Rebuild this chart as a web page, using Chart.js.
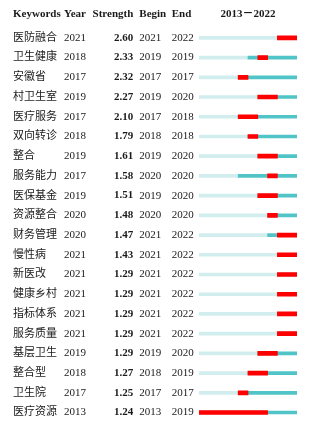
<!DOCTYPE html>
<html>
<head>
<meta charset="utf-8">
<script src="https://cdn.jsdelivr.net/npm/chart.js@4"></script>
<style>
  body { margin: 0; background: #fff; }
  #wrap { width: 324px; height: 435px; position: relative; }
</style>
</head>
<body>
<div id="wrap"><canvas id="burstChart"></canvas></div>
<script>
const keywords = ['医防融合', '卫生健康', '安徽省', '村卫生室', '医疗服务', '双向转诊', '整合', '服务能力', '医保基金', '资源整合',
    '财务管理', '慢性病', '新医改', '健康乡村', '指标体系', '服务质量', '基层卫生', '整合型', '卫生院', '医疗资源'];
const years = [2021, 2018, 2017, 2019, 2017, 2018, 2019, 2017, 2019, 2020, 2020, 2021, 2021, 2021, 2021, 2021, 2019, 2018, 2017, 2013];
const strengths = [2.60, 2.33, 2.32, 2.27, 2.10, 1.79, 1.61, 1.58, 1.51, 1.48, 1.47, 1.43, 1.29, 1.29, 1.29, 1.29, 1.29, 1.27, 1.25, 1.24];
const begins = [2021, 2019, 2017, 2019, 2017, 2018, 2019, 2020, 2019, 2020, 2021, 2021, 2021, 2021, 2021, 2021, 2019, 2018, 2017, 2013];
const ends = [2022, 2019, 2017, 2020, 2018, 2018, 2020, 2020, 2020, 2020, 2022, 2022, 2022, 2022, 2022, 2022, 2020, 2019, 2017, 2019];
const headers = ['Keywords', 'Year', 'Strength', 'Begin', 'End', '2013－2022'];
const firstYear = 2013;
const lastYear = 2022;

const textColor = '#1a1a1a';
const fontFamily = "'Liberation Serif', 'Noto Sans CJK SC', serif";

// one left-hand category axis per table column
function columnAxis(labels, width, weight, opts) {
    return Object.assign({
        type: 'category',
        position: 'left',
        labels: labels,
        offset: true,
        weight: weight,
        grid: { display: false, drawTicks: false },
        border: { display: false },
        ticks: { autoSkip: false, padding: 0, crossAlign: 'far', color: textColor,
                 font: { size: 11, family: fontFamily } },
        afterFit: s => { s.width = width; }
    }, opts || {});
}

// table header drawn above each column axis
const headerPlugin = {
    id: 'headers',
    afterDraw(chart) {
        const ctx = chart.ctx;
        const sc = chart.scales;
        const y = 14.5;
        ctx.save();
        ctx.fillStyle = textColor;
        ctx.font = 'bold 11px ' + fontFamily;
        ctx.textBaseline = 'middle';
        ctx.textAlign = 'left';
        ctx.fillText(headers[0], sc.y.left, y);
        ctx.fillText(headers[1], sc.yYear.left, y);
        ctx.textAlign = 'right';
        ctx.fillText(headers[2], sc.yStrength.right - 6, y);
        ctx.textAlign = 'left';
        ctx.fillText(headers[3], sc.yBegin.left, y);
        ctx.fillText(headers[4], sc.yEnd.left, y);
        ctx.textAlign = 'center';
        ctx.fillText(headers[5], (chart.chartArea.left + chart.chartArea.right) / 2, y);
        ctx.restore();
    }
};

const ctx = document.getElementById('burstChart').getContext('2d');
new Chart(ctx, {
    type: 'bar',
    data: {
        labels: keywords,
        datasets: [
            {
                label: 'burst',
                data: keywords.map((k, i) => [begins[i], ends[i] + 1]),
                backgroundColor: '#ff0000',
                barThickness: 4,
                grouped: false,
                borderSkipped: false
            },
            {
                label: 'after',
                data: keywords.map((k, i) => [years[i], lastYear + 1]),
                backgroundColor: '#50c4c6',
                barThickness: 3,
                grouped: false,
                borderSkipped: false
            },
            {
                label: 'before',
                data: keywords.map((k, i) => [firstYear, years[i]]),
                backgroundColor: '#d2edee',
                barThickness: 3,
                grouped: false,
                borderSkipped: false
            }
        ]
    },
    options: {
        indexAxis: 'y',
        responsive: true,
        maintainAspectRatio: false,
        animation: false,
        layout: { padding: { left: 13, top: 28, right: 27, bottom: 4 } },
        scales: {
            x: {
                type: 'linear',
                min: firstYear,
                max: lastYear + 1,
                display: false
            },
            y: columnAxis(keywords, 51, 5),
            yYear: columnAxis(years.map(String), 36, 4),
            yStrength: columnAxis(strengths.map(v => v.toFixed(2)), 39.3, 3, {
                ticks: { autoSkip: false, padding: 6, crossAlign: 'near', color: textColor,
                         font: { size: 11, family: fontFamily, weight: 'bold' } }
            }),
            yBegin: columnAxis(begins.map(String), 32.4, 2),
            yEnd: columnAxis(ends.map(String), 27.3, 1)
        },
        plugins: {
            legend: { display: false },
            tooltip: { enabled: false }
        }
    },
    plugins: [headerPlugin]
});
</script>
</body>
</html>
